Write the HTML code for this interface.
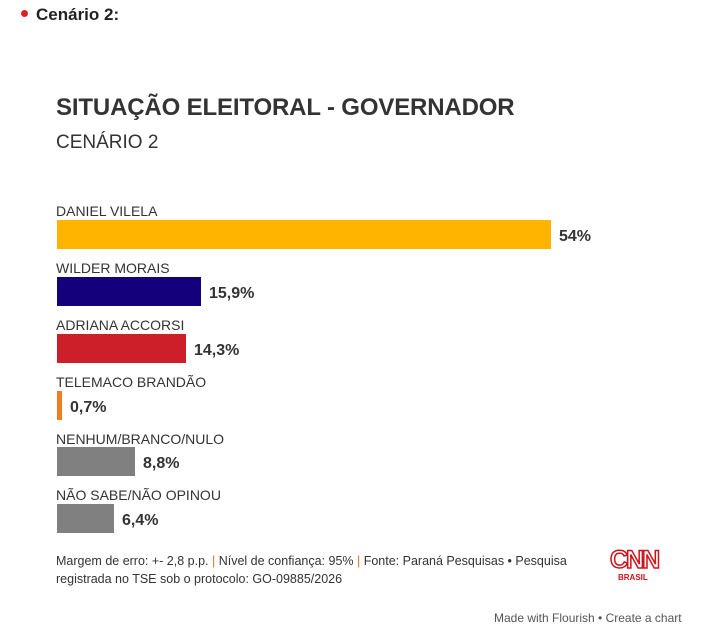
<!DOCTYPE html>
<html><head><meta charset="utf-8"><style>
body{margin:0;width:713px;height:631px;background:#fff;font-family:"Liberation Sans",sans-serif;position:relative;overflow:hidden;color:#333}
.a{position:absolute;white-space:nowrap}
.l{font-size:14px;color:#333;left:56px}
.b{position:absolute;left:57px;height:29px}
.v{font-size:16px;font-weight:bold;color:#333}
</style></head><body>
<div class="a" style="left:21px;top:10px;width:7px;height:7px;border-radius:50%;background:#e02020"></div>
<div class="a" style="left:36px;top:5px;font-size:17px;font-weight:bold;color:#222">Cenário 2:</div>
<div class="a" style="left:56px;top:94px;font-size:24px;font-weight:bold;color:#333;letter-spacing:-0.15px">SITUAÇÃO ELEITORAL - GOVERNADOR</div>
<div class="a" style="left:56px;top:132px;font-size:19px;color:#333">CENÁRIO 2</div>

<div class="a l" style="top:203px">DANIEL VILELA</div>
<div class="b" style="top:220px;width:494px;background:#ffb400"></div>
<div class="a v" style="left:559px;top:228px">54%</div>

<div class="a l" style="top:260px">WILDER MORAIS</div>
<div class="b" style="top:277px;width:144px;background:#14007a"></div>
<div class="a v" style="left:209px;top:285px">15,9%</div>

<div class="a l" style="top:317px">ADRIANA ACCORSI</div>
<div class="b" style="top:334px;width:129px;background:#cc1f2a"></div>
<div class="a v" style="left:194px;top:342px">14,3%</div>

<div class="a l" style="top:374px">TELEMACO BRANDÃO</div>
<div class="b" style="top:391px;width:5px;background:#f47c20"></div>
<div class="a v" style="left:70px;top:399px">0,7%</div>

<div class="a l" style="top:431px">NENHUM/BRANCO/NULO</div>
<div class="b" style="top:447px;width:78px;background:#808080"></div>
<div class="a v" style="left:143px;top:455px">8,8%</div>

<div class="a l" style="top:487px">NÃO SABE/NÃO OPINOU</div>
<div class="b" style="top:504px;width:57px;background:#808080"></div>
<div class="a v" style="left:122px;top:512px">6,4%</div>

<div class="a" style="left:56px;top:552px;font-size:12.5px;line-height:18px;color:#333">Margem de erro: +- 2,8 p.p. <span style="color:#e07020">|</span> Nível de confiança: 95% <span style="color:#e07020">|</span> Fonte: Paraná Pesquisas • Pesquisa<br>registrada no TSE sob o protocolo: GO-09885/2026</div>
<div class="a" style="left:610px;top:546px;font-size:25px;font-weight:bold;color:#fff;-webkit-text-stroke:1.5px #d0101a;letter-spacing:-2px">CNN</div>
<div class="a" style="left:618px;top:573px;font-size:8px;font-weight:bold;color:#d0101a">BRASIL</div>
<div class="a" style="left:494px;top:611px;font-size:12px;color:#555">Made with Flourish • Create a chart</div>
</body></html>
